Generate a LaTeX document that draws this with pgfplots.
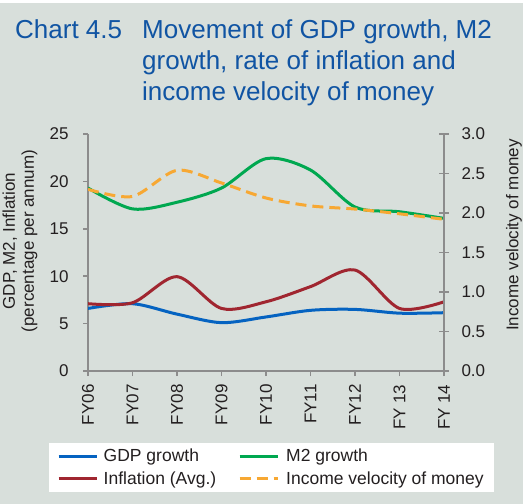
\documentclass[border=0pt]{standalone}
\usepackage{pgfplots}
\pgfplotsset{compat=1.18}
\usepackage{pgfplotstable}
\usepackage{fontspec}
\setmainfont{Liberation Sans}

\definecolor{bgc}{RGB}{216,223,219}
\definecolor{ttl}{RGB}{16,84,163}
\definecolor{gdp}{RGB}{5,99,193}
\definecolor{mtwo}{RGB}{0,168,80}
\definecolor{infl}{RGB}{160,38,48}
\definecolor{vel}{RGB}{247,168,51}
\definecolor{axg}{RGB}{140,140,140}
\definecolor{txt}{RGB}{35,31,32}

% FY06 ... FY14 at x = 0 ... 8
\pgfplotstableread{
x gdp  m2   infl vel
0 6.6  19.3 7.1  2.30
1 7.1  17.1 7.2  2.21
2 6.0  17.8 9.95 2.54
3 5.1  19.3 6.6  2.38
4 5.7  22.4 7.3  2.19
5 6.4  21.2 8.9  2.09
6 6.5  17.3 10.65 2.05
7 6.1  16.8 6.6  1.99
8 6.15 16.1 7.3  1.92
}\data

\pgfplotsset{
  common/.style={
    scale only axis, width=356pt, height=237pt,
    at={(88pt,-371pt)}, anchor=south west,
    xmin=0, xmax=8,
    axis line style={axg, line width=1.5pt},
    tick style={axg, line width=1.5pt},
    major tick length=5pt,
    tick label style={font=\fontsize{17}{20}\selectfont, text=txt},
    /pgf/number format/assume math mode=true,
  },
  ln/.style={line width=3pt, smooth, tension=0.5, no marks},
}

\begin{document}
\begin{tikzpicture}[x=1pt,y=1pt]
\fill[bgc] (0,-504) rectangle (523,0);
\fill[white] (0,-3) rectangle (523,0);
\useasboundingbox (0,-504) rectangle (523,0);

\node[ttl, anchor=base west, font=\fontsize{26}{31}\selectfont, inner sep=0pt] at (15,-38) {Chart 4.5};
\node[ttl, anchor=base west, font=\fontsize{26}{31}\selectfont, inner sep=0pt] at (142,-38) {Movement of GDP growth, M2};
\node[ttl, anchor=base west, font=\fontsize{26}{31}\selectfont, inner sep=0pt] at (142,-69) {growth, rate of inflation and};
\node[ttl, anchor=base west, font=\fontsize{26}{31}\selectfont, inner sep=0pt] at (142,-100) {income velocity of money};

\node[rotate=90, align=center, text=txt, font=\fontsize{17}{19}\selectfont, inner sep=0pt] at (20,-241)
  {GDP, M2, Inflation\\(percentage per annum)};
\node[rotate=90, text=txt, font=\fontsize{17}{19}\selectfont, inner sep=0pt] at (514,-235)
  {Income velocity of money};

\begin{axis}[common,
  ymin=0, ymax=25, ytick={0,5,...,25},
  axis y line*=left, axis x line*=bottom,
  tick align=outside,
  yticklabel shift=11pt,
  xticklabel shift=5pt,
  xtick={0,...,8},
  xticklabels={FY06,FY07,FY08,FY09,FY10,FY11,FY12,FY 13,FY 14},
  x tick label style={rotate=90, anchor=east},
]
\addplot[ln, gdp] table[x=x, y=gdp] {\data};
\addplot[ln, mtwo] table[x=x, y=m2] {\data};
\addplot[ln, infl] table[x=x, y=infl] {\data};
\end{axis}

\begin{axis}[common,
  ymin=0, ymax=3, ytick={0,0.5,...,3},
  axis y line*=right, axis x line=none,
  tick align=center, major tick length=10pt,
  yticklabel shift=9pt,
  yticklabel style={/pgf/number format/.cd, fixed, fixed zerofill, precision=1},
  legend columns=2,
  legend cell align=left,
  legend image code/.code={\draw[#1, line width=3pt] (0pt,0pt) -- (38pt,0pt); \path (43pt,0pt);},
  legend style={at={(0.515,-0.304)}, anchor=north, fill=white, draw=none,
    font=\fontsize{17.5}{20}\selectfont, text=txt,
    inner xsep=8pt, inner ysep=4pt, row sep=4pt,
    /tikz/every even column/.append style={column sep=20pt}},
]
\addlegendimage{gdp}
\addlegendentry{GDP growth}
\addlegendimage{mtwo}
\addlegendentry{M2 growth}
\addlegendimage{infl}
\addlegendentry{Inflation (Avg.)}
\addplot[ln, vel, dash pattern=on 11pt off 6pt] table[x=x, y=vel] {\data};
\addlegendentry{Income velocity of money}
\end{axis}
\end{tikzpicture}
\end{document}
